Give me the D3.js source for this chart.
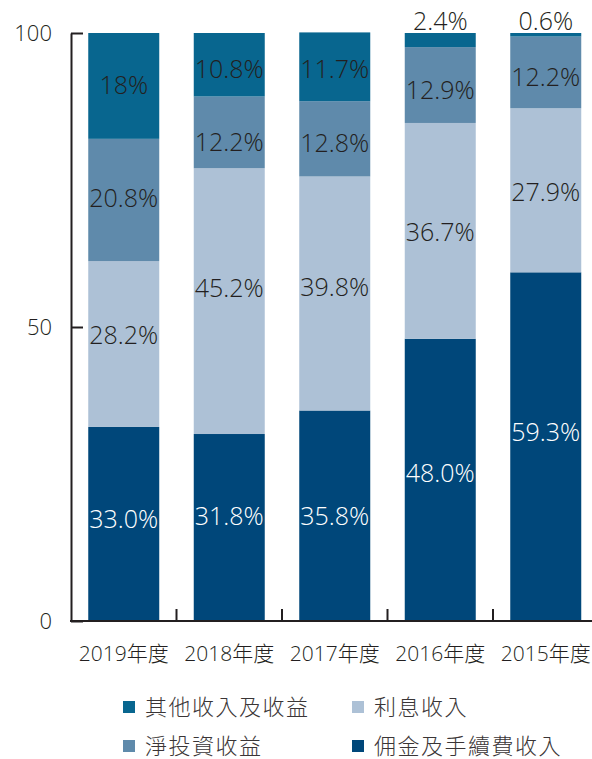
<!DOCTYPE html>
<html>
<head>
<meta charset="utf-8">
<script src="https://cdn.jsdelivr.net/npm/d3@7"></script>
<style>
  body { margin: 0; background: #fff; }
  svg text { font-family: "Open Sans", "Noto Sans CJK TC", sans-serif; font-weight: 300; }
</style>
</head>
<body>
<svg id="chart" width="592" height="759"></svg>
<script>
// years, bottom-to-top series order
const years = ["2019年度", "2018年度", "2017年度", "2016年度", "2015年度"]
const seriesNames = ["佣金及手續費收入", "利息收入", "淨投資收益", "其他收入及收益"]
const commission = [33.0, 31.8, 35.8, 48.0, 59.3]
const interest = [28.2, 45.2, 39.8, 36.7, 27.9]
const investment = [20.8, 12.2, 12.8, 12.9, 12.2]
const other = [18, 10.8, 11.7, 2.4, 0.6]
const labelText = [
  ["33.0%", "31.8%", "35.8%", "48.0%", "59.3%"],
  ["28.2%", "45.2%", "39.8%", "36.7%", "27.9%"],
  ["20.8%", "12.2%", "12.8%", "12.9%", "12.2%"],
  ["18%", "10.8%", "11.7%", "2.4%", "0.6%"]
]
const yTicks = [0, 50, 100]

// layout: small hand nudges (px) of the labels, as placed in the original
const labelNudge = [
  [-5, -11.5, 0, -7, -14.5],
  [-9, -13, -6.5, 1, 2],
  [-2, 10, 4, 5, 4.5],
  [-1, 4.5, 2, 0, 0]
]

const colors = ["#00477a", "#adc1d6", "#5f8aab", "#08668f"]
const textColor = "#231f20"

const svg = d3.select("#chart")
const rows = years.map((y, i) => ({ year: y, s0: commission[i], s1: interest[i], s2: investment[i], s3: other[i] }))
const stack = d3.stack().keys(["s0", "s1", "s2", "s3"])(rows)

const x = d3.scaleBand().domain(years).range([71, 598.5]).paddingInner(0.327).paddingOuter(0.1635)
const y = d3.scaleLinear().domain([0, 100]).range([621, 33])

// bars
const layers = svg.append("g").selectAll("g").data(stack).enter().append("g").attr("fill", (d, i) => colors[i])
layers.selectAll("rect").data((d) => d).enter().append("rect")
  .attr("x", (d) => x(d.data.year))
  .attr("y", (d) => y(d[1]))
  .attr("width", x.bandwidth())
  .attr("height", (d) => y(d[0]) - y(d[1]))

// segment labels (thin segments get their label above the bar)
stack.forEach((layer, si) => {
  layer.forEach((d, i) => {
    const small = d[1] - d[0] < 4
    svg.append("text")
      .attr("x", x(d.data.year) + x.bandwidth() / 2)
      .attr("y", small ? 30 : (y(d[0]) + y(d[1])) / 2 + 9 + labelNudge[si][i])
      .attr("text-anchor", "middle")
      .attr("font-size", 25)
      .attr("fill", si === 0 ? "#fff" : textColor)
      .text(labelText[si][i])
  })
})

// y axis
const yAxis = svg.append("g").attr("transform", "translate(71,0)")
  .call(d3.axisLeft(y).tickValues(yTicks).tickSize(-12).tickSizeOuter(0).tickPadding(19))
yAxis.selectAll("path, line").attr("stroke", textColor).attr("stroke-width", 2)
yAxis.selectAll("text").attr("font-size", 22).attr("fill", textColor)
  .attr("font-family", "'Open Sans', sans-serif").attr("dy", "0.35em")

// x axis line with ticks between bars
svg.append("line").attr("x1", 70).attr("x2", 592).attr("y1", 621).attr("y2", 621)
  .attr("stroke", textColor).attr("stroke-width", 2)
const gap = x.step() * x.paddingInner() / 2
svg.selectAll(".xtick").data(years.slice(0, -1)).enter().append("line")
  .attr("x1", (d) => x(d) + x.bandwidth() + gap)
  .attr("x2", (d) => x(d) + x.bandwidth() + gap)
  .attr("y1", 621).attr("y2", 609)
  .attr("stroke", textColor).attr("stroke-width", 2)
svg.selectAll(".xlab").data(years).enter().append("text")
  .attr("x", (d) => x(d) + x.bandwidth() / 2)
  .attr("y", 661)
  .attr("text-anchor", "middle")
  .attr("font-size", 21)
  .attr("fill", textColor)
  .text((d) => d)

// legend
const legendItems = [
  { name: seriesNames[3], color: colors[3], x: 123, y: 707 },
  { name: seriesNames[1], color: colors[1], x: 352, y: 707 },
  { name: seriesNames[2], color: colors[2], x: 123, y: 746 },
  { name: seriesNames[0], color: colors[0], x: 352, y: 746 }
]
const lg = svg.selectAll(".leg").data(legendItems).enter().append("g")
lg.append("rect").attr("x", (d) => d.x).attr("y", (d) => d.y - 6).attr("width", 12).attr("height", 12).attr("fill", (d) => d.color)
lg.append("text").attr("x", (d) => d.x + 22).attr("y", (d) => d.y + 8)
  .attr("font-size", 22).attr("letter-spacing", 1.5).attr("fill", "#3a3536").text((d) => d.name)
</script>
</body>
</html>
